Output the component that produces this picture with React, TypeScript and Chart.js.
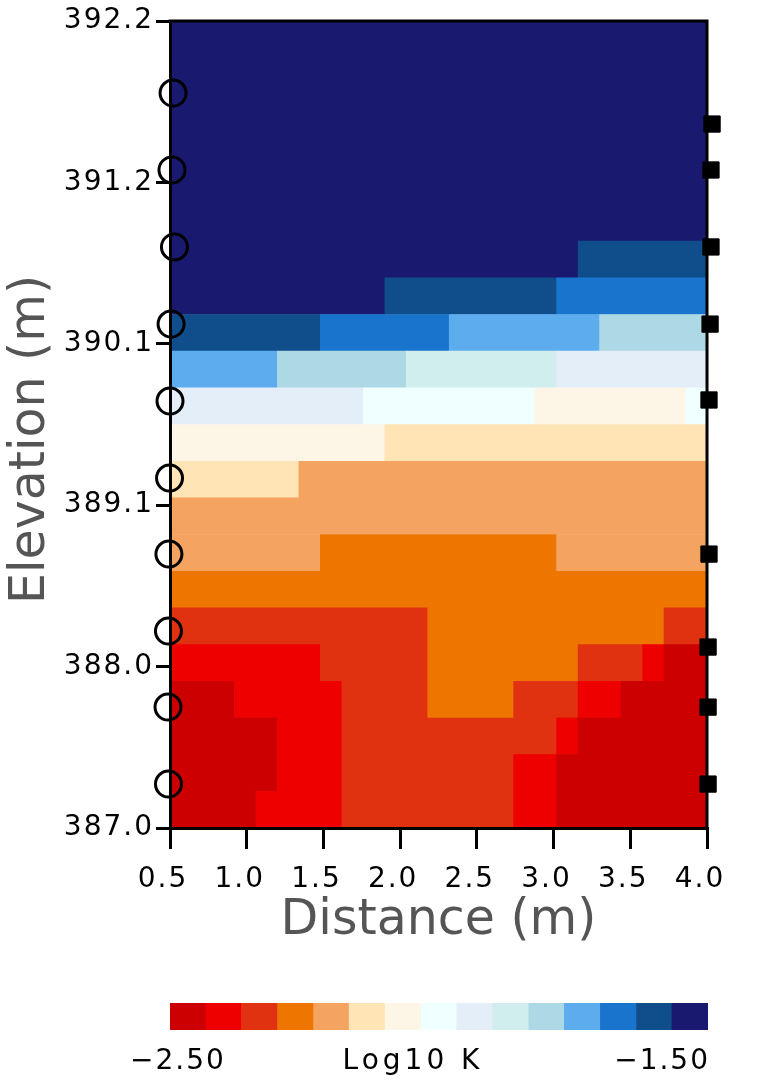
import React, { useEffect, useRef } from "react";
import { Chart, registerables } from "chart.js";

Chart.register(...registerables);

// ---- grid geometry (data coordinates) ----
const COLUMN_EDGES = [
  0.5, 0.64, 0.78, 0.92, 1.06, 1.2, 1.34, 1.48, 1.62, 1.76, 1.9, 2.04, 2.18,
  2.32, 2.46, 2.6, 2.74, 2.88, 3.02, 3.16, 3.3, 3.44, 3.58, 3.72, 3.86, 4.0,
];
const ROW_CENTERS = [
  392.082, 391.845, 391.609, 391.373, 391.136, 390.9, 390.664, 390.427,
  390.191, 389.955, 389.718, 389.482, 389.245, 389.009, 388.773, 388.536,
  388.3, 388.064, 387.827, 387.591, 387.355, 387.118,
];

// ---- Log10 K class per cell (0 = -2.50 ... E = -1.50), top row first ----
const LOGK_CLASS_ROWS = [
  "EEEEE EEEEE EEEEE EEEEE EEEEE",
  "EEEEE EEEEE EEEEE EEEEE EEEEE",
  "EEEEE EEEEE EEEEE EEEEE EEEEE",
  "EEEEE EEEEE EEEEE EEEEE EEEEE",
  "EEEEE EEEEE EEEEE EEEEE EEEEE",
  "EEEEE EEEEE EEEEE EEEEE EEEEE",
  "EEEEE EEEEE EEEEE EEEED DDDDD",
  "EEEEE EEEEE DDDDD DDDCC CCCCC",
  "DDDDD DDCCC CCCBB BBBBB AAAAA",
  "BBBBB AAAAA A9999 99988 88888",
  "88888 88887 77777 77666 66667",
  "66666 66666 55555 55555 55555",
  "55555 54444 44444 44444 44444",
  "44444 44444 44444 44444 44444",
  "44444 44333 33333 33344 44444",
  "33333 33333 33333 33333 33333",
  "22222 22222 22333 33333 33322",
  "11111 11222 22333 33332 22100",
  "00011 11122 22333 32221 10000",
  "00000 11122 22222 22210 00000",
  "00000 11122 22222 21100 00000",
  "00001 11122 22222 21100 00000",
];

const CLASS_COLORS = [
  "#CC0000", "#EE0000", "#E03210", "#EE7600", "#F4A460",
  "#FFE4B5", "#FDF5E6", "#F0FFFF", "#E4EEF8", "#D1EEEE",
  "#ADD8E6", "#5CACEE", "#1874CD", "#104E8B", "#191970",
];
const CLASS_BOUNDS = [
  -2.5, -2.433, -2.367, -2.3, -2.233, -2.167, -2.1, -2.033, -1.967, -1.9,
  -1.833, -1.767, -1.7, -1.633, -1.567, -1.5,
];

// ---- axes ----
const X_TICKS = [0.5, 1.0, 1.5, 2.0, 2.5, 3.0, 3.5, 4.0];
const Y_TICKS = [387.0, 388.04, 389.08, 390.12, 391.16, 392.2];
const COLORBAR_TICKS = [-2.5, -1.5];
const COLORBAR_TITLE = "Log10 K";

// ---- sensor markers ----
const CIRCLE_X = [0.52, 0.513, 0.529, 0.507, 0.5, 0.497, 0.493, 0.49, 0.487, 0.49];
const CIRCLE_Y = [391.736, 391.24, 390.744, 390.247, 389.751, 389.255, 388.765, 388.269, 387.779, 387.283];
const SQUARE_X = [4.033, 4.026, 4.026, 4.02, 4.013, 4.013, 4.007, 4.007, 4.007];
const SQUARE_Y = [391.536, 391.24, 390.744, 390.247, 389.758, 388.765, 388.166, 387.779, 387.283];

const FONT = "'DejaVu Sans', sans-serif";
const LETTER_SPACING = "2px";

function parseRow(s: string): number[] {
  return s.replace(/\s/g, "").split("").map((ch) => parseInt(ch, 16));
}

function buildCells() {
  const cells: { x: [number, number]; y: number }[] = [];
  const colors: string[] = [];
  LOGK_CLASS_ROWS.forEach((row, r) => {
    const cls = parseRow(row);
    let start = 0;
    for (let c = 1; c <= cls.length; c++) {
      if (c === cls.length || cls[c] !== cls[start]) {
        cells.push({ x: [COLUMN_EDGES[start], COLUMN_EDGES[c]], y: ROW_CENTERS[r] });
        colors.push(CLASS_COLORS[cls[start]]);
        start = c;
      }
    }
  });
  return { cells, colors };
}

// spaced tick labels + slight shift of the vertical title (IDL-like look)
const labelStylePlugin = {
  id: "labelStyle",
  beforeDraw(chart: any) {
    Object.values(chart.scales).forEach((scale: any) => {
      if (scale.__styled) return;
      scale.__styled = true;
      const origLabels = scale.drawLabels.bind(scale);
      scale.drawLabels = (area: any) => {
        const ctx = scale.ctx;
        ctx.save();
        (ctx as any).letterSpacing = LETTER_SPACING;
        origLabels(area);
        ctx.restore();
      };
      if (scale.axis === "y") {
        const origTitle = scale.drawTitle.bind(scale);
        scale.drawTitle = () => {
          const ctx = scale.ctx;
          ctx.save();
          ctx.translate(0, 15);
          origTitle();
          ctx.restore();
        };
      }
    });
  },
};

const framePlugin = {
  id: "frame",
  afterDatasetsDraw(chart: any) {
    const { ctx, chartArea } = chart;
    const { left, right, top, bottom } = chartArea;
    ctx.save();
    ctx.strokeStyle = "#000";
    ctx.lineWidth = 3;
    ctx.beginPath();
    ctx.moveTo(left - 1.5, top);
    ctx.lineTo(right, top);
    ctx.lineTo(right, bottom + 1.5);
    ctx.stroke();
    ctx.restore();
  },
};

const colorbarLabelPlugin = {
  id: "colorbarLabels",
  afterDraw(chart: any) {
    const { ctx, chartArea, scales } = chart;
    const xs = scales.x;
    const y = chartArea.bottom + 32;
    ctx.save();
    ctx.fillStyle = "#000";
    ctx.font = `28px ${FONT}`;
    (ctx as any).letterSpacing = LETTER_SPACING;
    ctx.textBaseline = "middle";
    const fmt = (v: number) => (v < 0 ? "\u2212" : "") + Math.abs(v).toFixed(2);
    ctx.textAlign = "center";
    ctx.fillText(fmt(COLORBAR_TICKS[0]), xs.getPixelForValue(COLORBAR_TICKS[0]) + 8, y);
    ctx.textAlign = "right";
    ctx.fillText(fmt(COLORBAR_TICKS[1]), xs.getPixelForValue(COLORBAR_TICKS[1]) + 2, y);
    ctx.textAlign = "center";
    (ctx as any).letterSpacing = "4px";
    ctx.fillText(COLORBAR_TITLE, (chartArea.left + chartArea.right) / 2 - 26, y);
    ctx.restore();
  },
};

export default function App() {
  const mainRef = useRef<HTMLCanvasElement | null>(null);
  const barRef = useRef<HTMLCanvasElement | null>(null);

  useEffect(() => {
    if (!mainRef.current || !barRef.current) return;
    const { cells, colors } = buildCells();

    const tickFont = { family: FONT, size: 28 };
    const titleFont = { family: FONT, size: 49 };

    const main = new Chart(mainRef.current, {
      type: "bar",
      data: {
        datasets: [
          {
            type: "scatter",
            label: "Left sensors",
            data: CIRCLE_X.map((x, i) => ({ x, y: CIRCLE_Y[i] })),
            pointStyle: "circle",
            pointRadius: 13,
            borderWidth: 3,
            borderColor: "#000",
            backgroundColor: "rgba(0,0,0,0)",
            clip: false,
            order: 0,
          } as any,
          {
            type: "scatter",
            label: "Right sensors",
            data: SQUARE_X.map((x, i) => ({ x, y: SQUARE_Y[i] })),
            pointStyle: "rect",
            pointRadius: 11.5,
            borderWidth: 1,
            borderColor: "#000",
            backgroundColor: "#000",
            clip: false,
            order: 0,
          } as any,
          {
            type: "bar",
            label: "Log10 K",
            indexAxis: "y",
            data: cells as any,
            backgroundColor: colors,
            borderWidth: 0,
            barPercentage: 1,
            categoryPercentage: 1,
            order: 1,
          } as any,
        ],
      },
      options: {
        responsive: false,
        animation: false,
        events: [],
        layout: { padding: { left: 0, right: 60, top: 21, bottom: 12 } },
        plugins: { legend: { display: false }, tooltip: { enabled: false } },
        scales: {
          x: {
            type: "linear",
            min: 0.5,
            max: 4.0,
            offset: false,
            afterBuildTicks: (scale: any) => {
              scale.ticks = X_TICKS.map((value) => ({ value }));
            },
            afterFit: (scale: any) => {
              scale.height = 140;
            },
            ticks: {
              callback: (v: any) => Number(v).toFixed(1),
              font: tickFont,
              color: "#000",
              padding: 14,
              labelOffset: -7,
              autoSkip: false,
              maxRotation: 0,
            },
            grid: {
              display: true,
              offset: false,
              drawOnChartArea: false,
              drawTicks: true,
              tickLength: 21,
              lineWidth: 3,
              color: "#000",
            },
            border: { display: true, width: 3, color: "#000", z: 1 },
            title: {
              display: true,
              text: "Distance (m)",
              font: titleFont,
              color: "#555",
              padding: { top: 0, bottom: 17 },
            },
          },
          y: {
            type: "linear",
            min: 387.0,
            max: 392.2,
            offset: false,
            afterBuildTicks: (scale: any) => {
              scale.ticks = Y_TICKS.map((value) => ({ value }));
            },
            afterFit: (scale: any) => {
              scale.width = 170;
            },
            ticks: {
              callback: (v: any) => Number(v).toFixed(1),
              font: tickFont,
              color: "#000",
              padding: 2,
              autoSkip: false,
            },
            grid: {
              display: true,
              offset: false,
              drawOnChartArea: false,
              drawTicks: true,
              tickLength: 14,
              lineWidth: 3,
              color: "#000",
            },
            border: { display: true, width: 3, color: "#000", z: 1 },
            title: {
              display: true,
              text: "Elevation (m)",
              font: titleFont,
              color: "#555",
              padding: { top: 2, bottom: 0 },
            },
          },
        },
      } as any,
      plugins: [labelStylePlugin, framePlugin],
    });

    const bar = new Chart(barRef.current, {
      type: "bar",
      data: {
        labels: [COLORBAR_TITLE],
        datasets: [
          {
            label: COLORBAR_TITLE,
            data: CLASS_COLORS.map((_, i) => ({
              x: [CLASS_BOUNDS[i], CLASS_BOUNDS[i + 1]],
              y: COLORBAR_TITLE,
            })) as any,
            backgroundColor: CLASS_COLORS,
            borderWidth: 0,
            barPercentage: 1,
            categoryPercentage: 1,
          },
        ],
      },
      options: {
        indexAxis: "y",
        responsive: false,
        animation: false,
        events: [],
        layout: { padding: { left: 170, right: 59, top: 3, bottom: 57 } },
        plugins: { legend: { display: false }, tooltip: { enabled: false } },
        scales: {
          x: { type: "linear", min: -2.5, max: -1.5, display: false },
          y: { type: "category", display: false },
        },
      } as any,
      plugins: [colorbarLabelPlugin],
    });

    return () => {
      main.destroy();
      bar.destroy();
    };
  }, []);

  return (
    <div style={{ position: "absolute", left: 0, top: 0, width: 767, height: 1087, background: "#fff", overflow: "hidden" }}>
      <canvas
        ref={mainRef}
        width={767}
        height={980}
        style={{ position: "absolute", left: 0, top: 0, width: 767, height: 980, display: "block" }}
      />
      <canvas
        ref={barRef}
        width={767}
        height={87}
        style={{ position: "absolute", left: 0, top: 1000, width: 767, height: 87, display: "block" }}
      />
    </div>
  );
}
